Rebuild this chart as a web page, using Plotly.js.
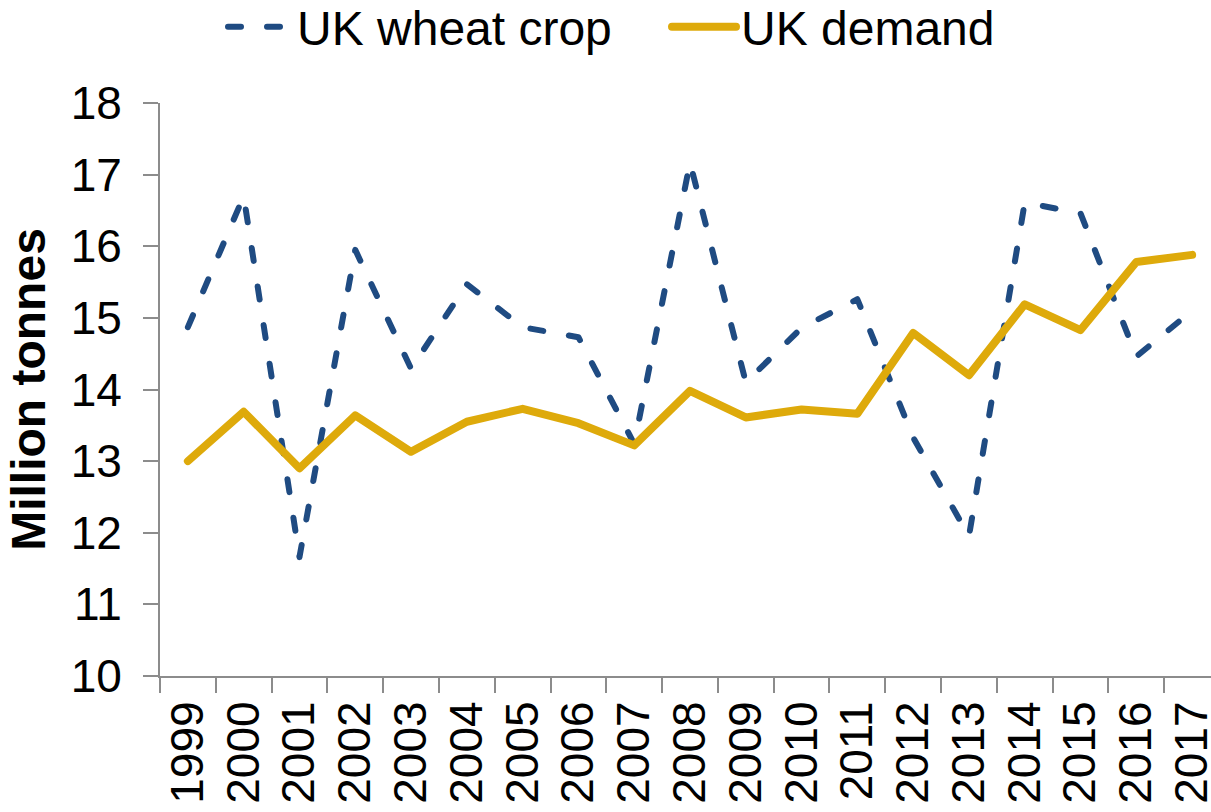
<!DOCTYPE html>
<html>
<head>
<meta charset="utf-8">
<script src="https://cdn.plot.ly/plotly-3.0.1.min.js"></script>
<style>
  html, body { margin: 0; padding: 0; background: #ffffff; overflow: hidden; }
  #chart { width: 1220px; height: 812px; }
  .js-line { stroke-linecap: round; stroke-linejoin: round; }
</style>
</head>
<body>
<div id="chart"></div>
<script>
// Harvest years on the category axis
const years = ['1999','2000','2001','2002','2003','2004','2005','2006','2007','2008',
               '2009','2010','2011','2012','2013','2014','2015','2016','2017'];

// UK wheat production, million tonnes
const wheatCrop = [14.87, 16.70, 11.66, 15.95, 14.29, 15.47, 14.87, 14.73, 13.24, 17.17,
                   14.10, 14.86, 15.26, 13.33, 11.95, 16.61, 16.46, 14.46, 15.10];

// UK wheat demand, million tonnes
const ukDemand = [13.00, 13.69, 12.90, 13.64, 13.13, 13.55, 13.73, 13.53, 13.22, 13.98,
                  13.61, 13.72, 13.66, 14.79, 14.20, 15.19, 14.83, 15.78, 15.88];

const FONT = 'Liberation Sans, Arial, sans-serif';
const AXIS_GREY = '#8c8c8c';
const W = 1220;

const traces = [
  {
    x: years, y: wheatCrop, name: 'UK wheat crop',
    type: 'scatter', mode: 'lines',
    line: { color: '#1f4b82', width: 6, dash: '13px,26px' }
  },
  {
    x: years, y: ukDemand, name: 'UK demand',
    type: 'scatter', mode: 'lines',
    line: { color: '#deaa0b', width: 8 }
  }
];

const layout = {
  width: W, height: 812,
  margin: { l: 160, r: 0, t: 103, b: 136 },
  paper_bgcolor: '#ffffff', plot_bgcolor: '#ffffff',
  font: { family: FONT, color: '#000000', size: 46 },
  showlegend: true,
  legend: {
    orientation: 'h',
    xref: 'container', x: 223 / W, xanchor: 'left',
    yref: 'container', y: 1 - 27 / 812, yanchor: 'middle',
    font: { family: FONT, size: 48, color: '#000000' },
    bgcolor: 'rgba(0,0,0,0)',
    itemwidth: 64,
    entrywidth: 365, entrywidthmode: 'pixels',
    tracegroupgap: 0
  },
  xaxis: {
    type: 'category',
    range: [-0.5, 18.5],
    tickson: 'boundaries',
    ticks: 'outside', ticklen: 15, tickwidth: 2, tickcolor: AXIS_GREY,
    showline: true, linecolor: AXIS_GREY, linewidth: 2,
    showgrid: false, zeroline: false,
    tickangle: -90,
    ticklabelstandoff: 5,
    tickfont: { family: FONT, size: 46, color: '#000000' },
    automargin: false
  },
  yaxis: {
    range: [10, 18],
    dtick: 1,
    ticks: 'outside', ticklen: 15, tickwidth: 2, tickcolor: AXIS_GREY,
    showline: true, linecolor: AXIS_GREY, linewidth: 2,
    showgrid: false, zeroline: false,
    tickfont: { family: FONT, size: 46, color: '#000000' },
    ticklabelstandoff: 12,
    title: { text: '<b>Million tonnes</b>', font: { family: FONT, size: 48, color: '#000000' }, standoff: 10 },
    automargin: false
  }
};

Plotly.newPlot('chart', traces, layout, { displayModeBar: false, staticPlot: true });
</script>
</body>
</html>
